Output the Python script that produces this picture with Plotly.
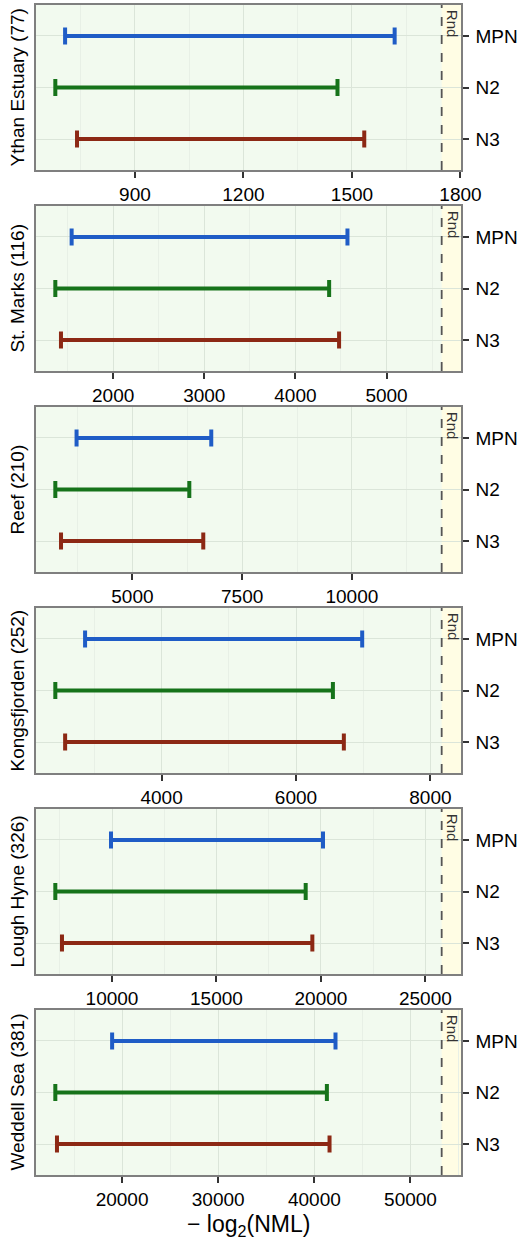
import plotly.graph_objects as go

panels = ["Ythan Estuary (77)", "St. Marks (116)", "Reef (210)",
          "Kongsfjorden (252)", "Lough Hyne (326)", "Weddell Sea (381)"]
methods = ["MPN", "N2", "N3"]
mpn_lo = [707, 1544, 3727, 2861, 9952, 18963]
mpn_hi = [1618, 4571, 6796, 6985, 20100, 42200]
n2_lo = [680, 1365, 3243, 2418, 7286, 13054]
n2_hi = [1460, 4370, 6296, 6549, 19271, 41304]
n3_lo = [740, 1427, 3373, 2564, 7605, 13227]
n3_hi = [1534, 4479, 6614, 6712, 19590, 41580]
rnd = [1748, 5605, 12046, 8168, 25781, 53246]
dticks = [300, 1000, 2500, 2000, 5000, 10000]

colors = {"MPN": "#1f5cc6", "N2": "#16731a", "N3": "#8c2814"}
lows = {"MPN": mpn_lo, "N2": n2_lo, "N3": n3_lo}
highs = {"MPN": mpn_hi, "N2": n2_hi, "N3": n3_hi}

W, H = 522, 1243
T, B = 5, 1175  # pixel top/bottom of plotting region
PH = B - T
ptop = [5 + i * 201 for i in range(6)]
pheight = 165

FONT = "Liberation Sans, Arial, Helvetica, sans-serif"

fig = go.Figure()
layout = dict(
    width=W, height=H,
    margin=dict(l=36, r=61, t=T, b=H - B),
    plot_bgcolor="#f2faef",
    paper_bgcolor="white",
    font=dict(family=FONT, size=19, color="black"),
    showlegend=False,
)
shapes = []
annotations = []

for i in range(6):
    xa = "x" if i == 0 else f"x{i+1}"
    ya = "y" if i == 0 else f"y{i+1}"
    for m in methods:
        lo = lows[m][i]
        hi = highs[m][i]
        fig.add_trace(go.Scatter(
            x=[lo], y=[m], mode="markers",
            marker=dict(size=2, color="rgba(0,0,0,0)"),
            error_x=dict(type="data", symmetric=False, array=[hi - lo],
                         arrayminus=[0], color=colors[m], thickness=4, width=8.5),
            xaxis=xa, yaxis=ya, hoverinfo="skip",
        ))
    all_lo = min(mpn_lo[i], n2_lo[i], n3_lo[i])
    span = rnd[i] - all_lo
    r0, r1 = all_lo - 0.05 * span, rnd[i] + 0.05 * span
    d_top = min(1.0, max(0.0, (B - ptop[i]) / PH))
    d_bot = min(1.0, max(0.0, (B - ptop[i] - pheight) / PH))
    axis_common = dict(showline=True, mirror=True, linecolor="#7f7f7f",
                       linewidth=1.5, ticks="outside", ticklen=6, tickwidth=1.5,
                       tickcolor="#333333", zeroline=False)
    layout["xaxis" if i == 0 else f"xaxis{i+1}"] = dict(
        anchor=ya, domain=[0, 1], range=[r0, r1], dtick=dticks[i], tick0=0,
        tickformat="d", showgrid=True, gridcolor="#dbe5d9", gridwidth=1,
        minor=dict(dtick=dticks[i] / 2, tick0=0, showgrid=True,
                   gridcolor="#e8f0e6", gridwidth=1, ticks=""),
        tickfont=dict(size=19), automargin=False, **axis_common)
    layout["yaxis" if i == 0 else f"yaxis{i+1}"] = dict(
        anchor=xa, domain=[d_bot, d_top], type="category",
        categoryorder="array", categoryarray=methods, range=[2.6, -0.6],
        side="right", showgrid=True, gridcolor="#dbe5d9", gridwidth=1,
        ticklabelstandoff=3,
        tickfont=dict(size=19), automargin=False, **axis_common)
    shapes.append(dict(type="rect", xref=xa, yref=f"{ya} domain",
                       x0=rnd[i], x1=r1, y0=0, y1=1, fillcolor="#fffde4",
                       line=dict(width=0), layer="below"))
    shapes.append(dict(type="line", xref=xa, yref=f"{ya} domain",
                       x0=rnd[i], x1=rnd[i], y0=0, y1=1,
                       line=dict(color="#555555", width=1.8, dash="dash"),
                       layer="above"))
    annotations.append(dict(text="Rnd", x=rnd[i], xref=xa, y=1,
                            yref=f"{ya} domain", textangle=90,
                            xanchor="left", yanchor="top", xshift=1, yshift=-3,
                            showarrow=False,
                            font=dict(size=15, color="#333333")))
    annotations.append(dict(text=panels[i], x=(17 - 36) / 425, xref="paper",
                            y=(d_top + d_bot) / 2, yref="paper", textangle=-90,
                            xanchor="center", yanchor="middle", showarrow=False,
                            font=dict(size=19, color="black")))

annotations.append(dict(text="\u2212 log<sub>2</sub>(NML)", x=0.5, xref="paper",
                        y=(B - 1225) / PH, yref="paper", xanchor="center",
                        yanchor="middle", showarrow=False,
                        font=dict(size=23, color="black")))

layout["shapes"] = shapes
layout["annotations"] = annotations
fig.update_layout(**layout)
fig.write_html("out.html")
